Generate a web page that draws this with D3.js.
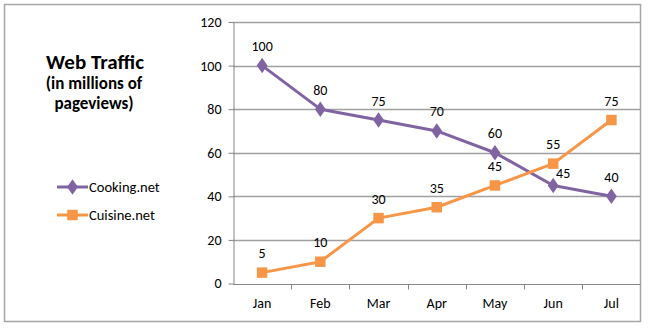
<!DOCTYPE html>
<html><head><meta charset="utf-8">
<script src="https://cdn.jsdelivr.net/npm/d3@7"></script>
<style>
body{margin:0;background:#fff;}
text{font-family:Carlito,Lato,"Liberation Sans",sans-serif;fill:#000;}
</style></head>
<body><svg id="c" width="648" height="328"></svg>
<script>
const months = ["Jan","Feb","Mar","Apr","May","Jun","Jul"];
const cooking = [100,80,75,70,60,45,40];
const cuisine = [5,10,30,35,45,55,75];
const yTicks = [0,20,40,60,80,100,120];
const seriesNames = ["Cooking.net","Cuisine.net"];

const svg = d3.select("#c");
const purple = "#8064a2", orange = "#f79646", grid = "#a0a0a0";
const FS = 14;

svg.append("rect").attr("x",4.5).attr("y",4.5).attr("width",636).attr("height",317)
  .attr("fill","#fff").attr("stroke","#a6a6a6").attr("stroke-width",1.5);

const x = d3.scaleBand().domain(months).range([233,640.5]);
const y = d3.scaleLinear().domain([0,120]).range([283.5,22]);

// gridlines
svg.append("g").selectAll("line").data(yTicks.filter(d=>d>0)).join("line")
  .attr("x1",233).attr("x2",640.5).attr("y1",d=>Math.round(y(d))+0.5).attr("y2",d=>Math.round(y(d))+0.5)
  .attr("stroke",grid).attr("stroke-width",1.3);

// y axis
const yAxis = d3.axisLeft(y).tickValues(yTicks).tickSize(5).tickPadding(7).tickSizeOuter(0);
const gy = svg.append("g").attr("transform","translate(233.5,0)").call(yAxis);
gy.select(".domain").attr("stroke","#868686");
gy.selectAll(".tick line").attr("stroke","#868686");
gy.selectAll(".tick text").attr("font-size",FS).style("font-family","Carlito,Lato,'Liberation Sans',sans-serif");

// x axis
const gx = svg.append("g").attr("transform",`translate(0,${Math.round(y(0))+0.5})`);
gx.append("line").attr("x1",233).attr("x2",640.5).attr("stroke","#868686");
gx.selectAll("line.t").data(months.slice(1)).join("line").attr("class","t")
  .attr("x1",d=>Math.round(x(d))+0.5).attr("x2",d=>Math.round(x(d))+0.5).attr("y1",0).attr("y2",5)
  .attr("stroke","#868686");
gx.selectAll("text").data(months).join("text")
  .attr("x",d=>x(d)+x.bandwidth()/2).attr("y",23).attr("text-anchor","middle")
  .attr("font-size",FS).text(d=>d);

const cx = d=>x(d)+x.bandwidth()/2;
const line = d3.line().x((d,i)=>cx(months[i])).y(d=>y(d));

function drawSeries(vals,color,shape){
  svg.append("path").datum(vals).attr("d",line).attr("fill","none")
    .attr("stroke",color).attr("stroke-width",3).attr("stroke-linejoin","round");
  const sym = d3.symbol().type(shape).size(shape===d3.symbolSquare?110:70);
  svg.append("g").selectAll("path").data(vals).join("path")
    .attr("transform",(d,i)=>`translate(${cx(months[i])},${y(d)})`+(shape===d3.symbolDiamond?" scale(1.2,1)":""))
    .attr("d",sym).attr("fill",color);
}
drawSeries(cooking,purple,d3.symbolDiamond);
drawSeries(cuisine,orange,d3.symbolSquare);

// data labels
function labels(vals,name){
  svg.append("g").selectAll("text").data(vals).join("text")
    .attr("x",(d,i)=>cx(months[i]) + (name==="Cooking.net"&&months[i]==="Jun"?10:0))
    .attr("y",(d,i)=>y(d) - (name==="Cooking.net"&&months[i]==="Jun"?7:14.5))
    .attr("text-anchor","middle").attr("font-size",FS).text(d=>d);
}
labels(cooking,"Cooking.net");
labels(cuisine,"Cuisine.net");

// title
const t = svg.append("g").attr("text-anchor","middle").attr("font-weight","bold");
t.append("text").attr("x",95).attr("y",68.5).attr("font-size",21).text("Web Traffic");
t.append("text").attr("x",94).attr("y",89).attr("font-size",17).text("(in millions of");
t.append("text").attr("x",94).attr("y",109).attr("font-size",17).text("pageviews)");

// legend
const leg = svg.append("g");
[[seriesNames[0],purple,d3.symbolDiamond,187],[seriesNames[1],orange,d3.symbolSquare,215]].forEach(([n,c,s,ly])=>{
  leg.append("line").attr("x1",57).attr("x2",88).attr("y1",ly).attr("y2",ly).attr("stroke",c).attr("stroke-width",3);
  leg.append("path").attr("transform",`translate(72.5,${ly})`+(s===d3.symbolDiamond?" scale(1.2,1)":""))
    .attr("d",d3.symbol().type(s).size(s===d3.symbolSquare?110:70)).attr("fill",c);
  leg.append("text").attr("x",89).attr("y",ly+5).attr("font-size",14.5).text(n);
});
</script></body></html>
